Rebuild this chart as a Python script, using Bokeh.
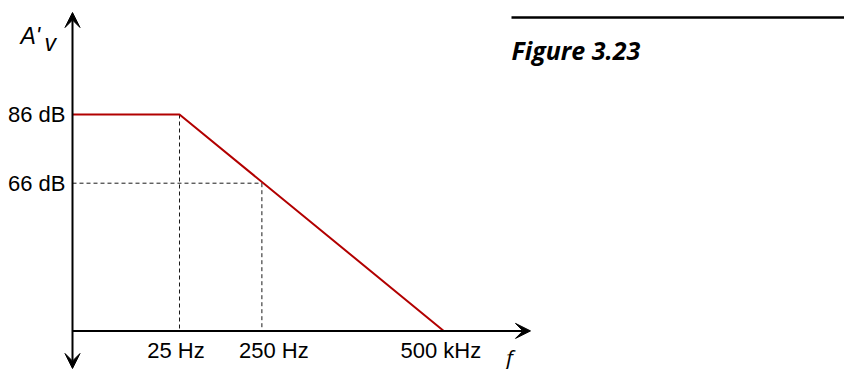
from bokeh.plotting import figure
from bokeh.models import Range1d, Arrow, VeeHead, ColumnDataSource
from bokeh.core.properties import value
from bokeh.embed import file_html
from bokeh.resources import INLINE

# ---------------- data (schematic Bode plot) ----------------
freq_labels = ["25 Hz", "250 Hz", "500 kHz"]
freq_pos = [1.0, 1.77, 3.47]          # schematic positions along the f axis
gain_labels = ["86 dB", "66 dB"]
gain_db = [86, 66]
axis_floor_db = 23                     # gain at which the f axis is drawn
response_x = [0.0, 1.0, 3.47]          # corner at 25 Hz, reaches the axis at 500 kHz
response_db = [86, 86, 23]
y_label = "A'"
y_label_sub = "v"
x_label = "f"
caption = "Figure 3.23"

# ---------------- layout ----------------
W, H = 844, 369
PX_X = 107.0     # pixels per schematic unit
PX_Y = 3.435     # pixels per dB
ORIGIN_X = 72    # canvas px of the vertical axis
TOP_86 = 114     # canvas px of 86 dB
x0 = -ORIGIN_X / PX_X
x1 = x0 + W / PX_X
y1 = 86 + TOP_86 / PX_Y
y0 = y1 - H / PX_Y

def dx(px):  # canvas x px -> data
    return x0 + px / PX_X

def dy(py):  # canvas y px (from top) -> data
    return y1 - py / PX_Y

p = figure(width=W, height=H, x_range=Range1d(x0, x1), y_range=Range1d(y0, y1),
           output_backend="svg", toolbar_location=None, min_border=0,
           x_axis_type=None, y_axis_type=None)
p.grid.visible = False
p.outline_line_color = None
p.background_fill_color = "white"
p.border_fill_color = "white"

# dashed guide lines
dash_col = "#1a1a1a"
p.line([freq_pos[0], freq_pos[0]], [gain_db[0], axis_floor_db], line_color=dash_col,
       line_width=1, line_dash="4 3")
p.line([0, freq_pos[1]], [gain_db[1], gain_db[1]], line_color=dash_col,
       line_width=1, line_dash="4 3")
p.line([freq_pos[1], freq_pos[1]], [gain_db[1], axis_floor_db], line_color=dash_col,
       line_width=1, line_dash="4 3")

# response curve
p.line(response_x, response_db, line_color="#B20000", line_width=2)

# axes with arrows
y_top = dy(12)
y_bot = dy(368)
x_end = dx(530)
def head():
    return VeeHead(size=15, fill_color="black", line_color="black", line_width=1)
p.add_layout(Arrow(start=head(), end=head(),
                   x_start=0, y_start=y_bot, x_end=0, y_end=y_top,
                   line_color="black", line_width=2))
p.add_layout(Arrow(end=head(),
                   x_start=0, y_start=axis_floor_db, x_end=x_end, y_end=axis_floor_db,
                   line_color="black", line_width=2))

FONT = value("Liberation Sans")

# gain labels
p.text(x=[0] * len(gain_db), y=gain_db, text=gain_labels, x_offset=-7,
       text_align="right", text_baseline="middle", text_font=FONT,
       text_font_size="22px", text_color="black")

# frequency labels
label_shift = [-3.5, 12, -3]
src = ColumnDataSource(dict(x=freq_pos, y=[axis_floor_db] * len(freq_pos),
                            t=freq_labels, dx=label_shift))
p.text(x="x", y="y", text="t", x_offset="dx", y_offset=20, source=src,
       text_align="center", text_baseline="middle", text_font=FONT,
       text_font_size="22px", text_color="black")

# axis titles
p.text(x=[x_end], y=[axis_floor_db], text=[x_label], x_offset=-21, y_offset=26,
       text_align="center", text_baseline="alphabetic", text_font=value("Open Sans"),
       text_font_style="italic", text_font_size="22px", text_color="black")
p.text(x=[0], y=[y_top], text=[y_label], x_offset=-52, y_offset=23,
       text_align="left", text_baseline="alphabetic", text_font=FONT,
       text_font_style="italic", text_font_size="23px", text_color="black")
p.text(x=[0], y=[y_top], text=[y_label_sub], x_offset=-28, y_offset=30,
       text_align="left", text_baseline="alphabetic", text_font=FONT,
       text_font_style="italic", text_font_size="23px", text_color="black")

# caption rule and caption
p.line([dx(511), x1], [dy(17), dy(17)], line_color="black", line_width=2.5)
p.text(x=[dx(511)], y=[dy(49)], text=[caption], text_align="left",
       text_baseline="alphabetic", text_font=value("Open Sans"),
       text_font_style="bold italic", text_font_size="25px", text_color="black")

open("out.html", "w").write(file_html(p, INLINE))
